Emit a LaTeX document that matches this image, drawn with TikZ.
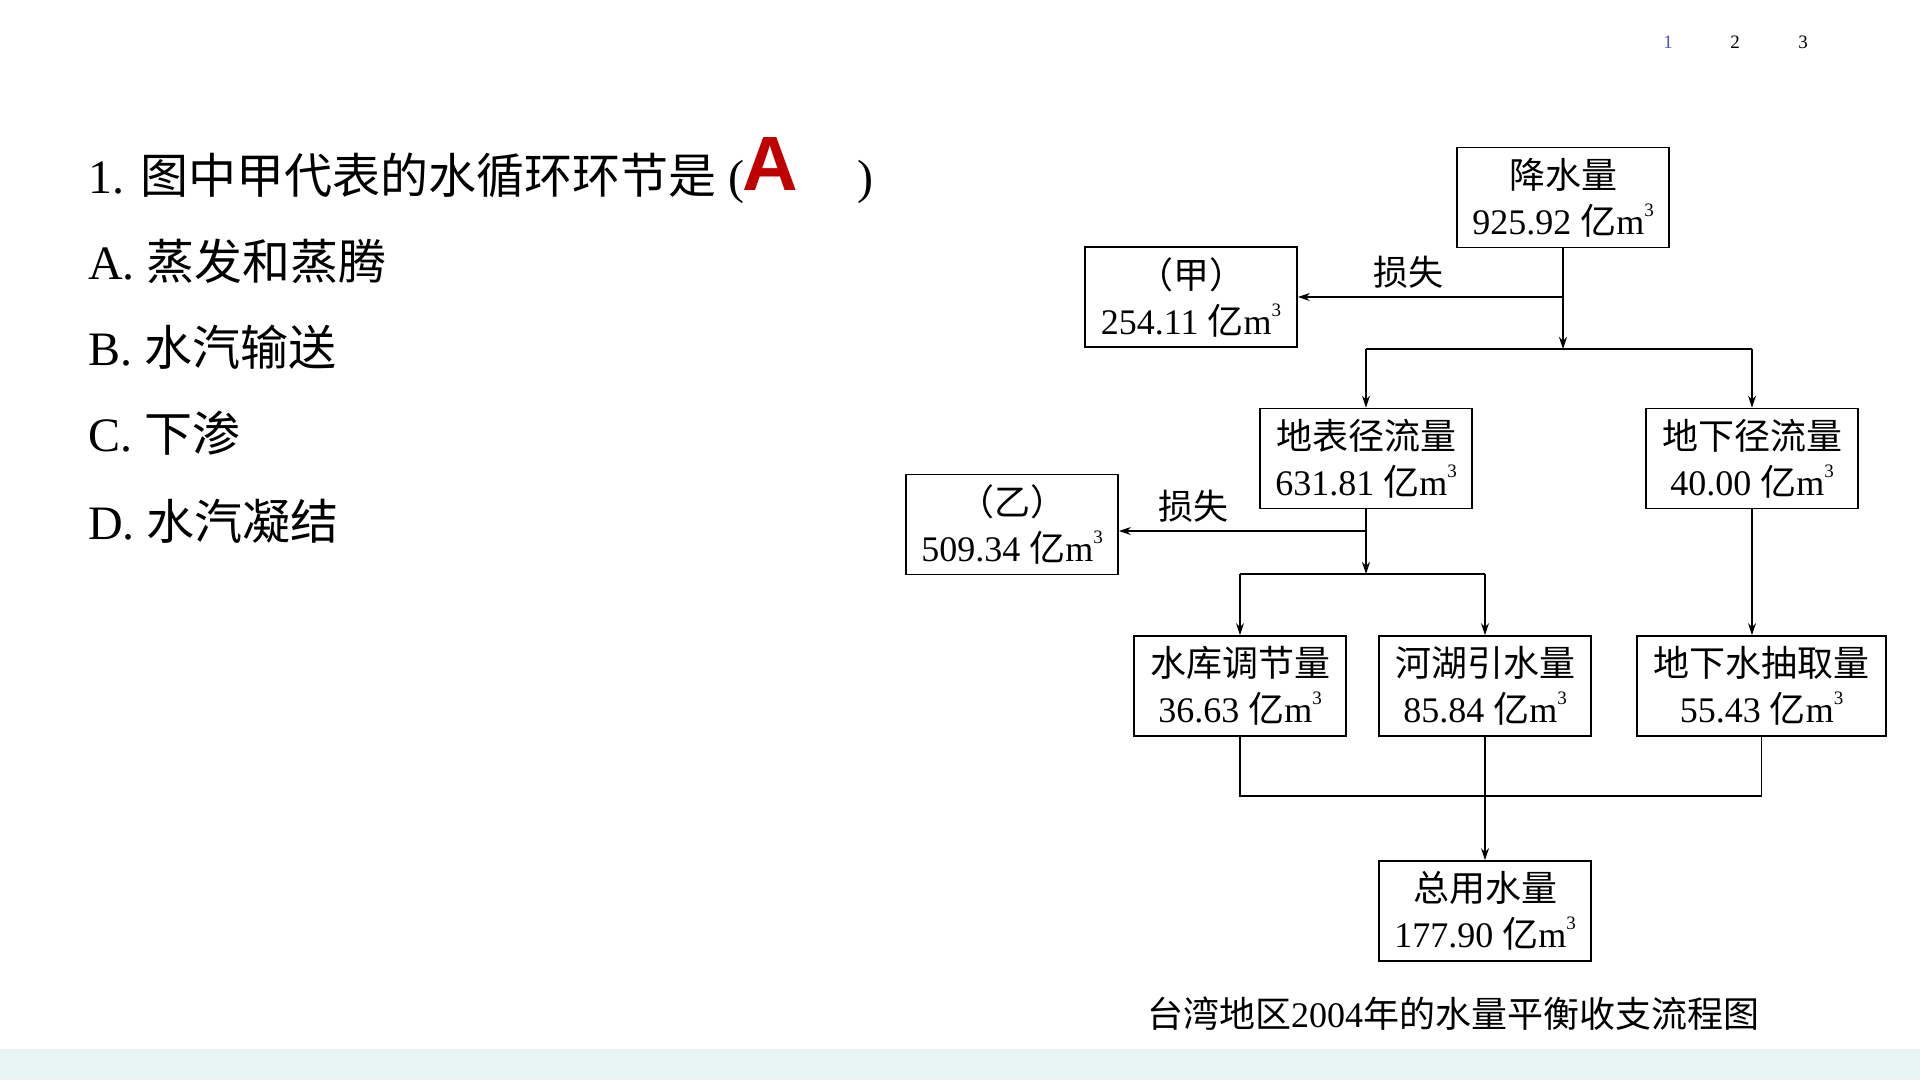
\documentclass[tikz,border=0pt]{standalone}
\usepackage{fontspec}
\setmainfont{Liberation Serif}
\newfontfamily\cjk{Noto Sans CJK SC}
\newfontfamily\sansb{Liberation Sans}
\usetikzlibrary{arrows.meta}
\definecolor{band}{RGB}{232,244,244}
\definecolor{ansred}{RGB}{192,0,0}
\definecolor{pgblue}{RGB}{80,80,200}
\newcommand{\yim}{{\cjk 亿}m\raisebox{0.5em}{\fontsize{19}{19}\selectfont 3}}
\begin{document}
\begin{tikzpicture}[x=1pt,y=-1pt,
 box/.style={draw, line width=1.8pt, minimum width=212pt, minimum height=100pt, inner sep=0pt, align=center, font=\fontsize{36}{46}\selectfont},
 flow/.style={line width=1.6pt},
 arr/.style={flow, -{Stealth[length=12pt,width=8pt]}},
 lbl/.style={font=\fontsize{35}{40}\selectfont\cjk},
 q/.style={anchor=base west, inner sep=0pt, font=\fontsize{48}{54}\selectfont},
 pg/.style={font=\fontsize{19}{20}\selectfont}
]
\fill[white] (0,0) rectangle (1920,1080);
\useasboundingbox (0,0) rectangle (1920,1080);
\fill[band] (0,1049) rectangle (1920,1080);

% page numbers
\node[pg, text=pgblue] (p1) at (1668,42) {1};
\node[pg] (p2) at (1735,42) {2};
\node[pg] (p3) at (1803,42) {3};

% question
\node[q] (q1) at (88,193) {1. {\cjk 图中甲代表的水循环环节是} (};
\node[q] (qr) at (857,193) {)};
\node[anchor=base west, inner sep=0pt, text=ansred, font=\fontsize{77}{80}\selectfont\sansb\bfseries] (ans) at (742,190) {A};
\node[q] (oa) at (88,279) {A. {\cjk 蒸发和蒸腾}};
\node[q] (ob) at (88,365) {B. {\cjk 水汽输送}};
\node[q] (oc) at (88,451) {C. {\cjk 下渗}};
\node[q] (od) at (88,539) {D. {\cjk 水汽凝结}};

% diagram boxes
\node[box] (js) at (1563,197.5) {{\cjk 降水量}\\925.92 \yim};
\node[box] (jia) at (1191,297) {{\cjk （甲）}\\254.11 \yim};
\node[box] (dbj) at (1366,458.5) {{\cjk 地表径流量}\\631.81 \yim};
\node[box] (dxj) at (1752,458.5) {{\cjk 地下径流量}\\40.00 \yim};
\node[box] (yi) at (1012,524.5) {{\cjk （乙）}\\509.34 \yim};
\node[box] (sk) at (1240,686) {{\cjk 水库调节量}\\36.63 \yim};
\node[box] (hh) at (1485,686) {{\cjk 河湖引水量}\\85.84 \yim};
\node[box, minimum width=249pt] (dxcq) at (1761.5,686) {{\cjk 地下水抽取量}\\55.43 \yim};
\node[box] (zy) at (1485,911) {{\cjk 总用水量}\\177.90 \yim};

% labels
\node[lbl] (ls1) at (1408,272) {损失};
\node[lbl] (ls2) at (1193,506) {损失};
\node[font=\fontsize{36}{40}\selectfont] (cap) at (1453,1014) {{\cjk 台湾地区}2004{\cjk 年的水量平衡收支流程图}};

% connectors
\coordinate (j1) at (1563,297);
\coordinate (j2) at (1563,349);
\draw[flow] (js.south) -- (j1);
\draw[arr] (j1) -- (j1 -| jia.east);
\draw[arr] (j1) -- (j2);
\draw[flow] (dbj.north |- j2) -- (dxj.north |- j2);
\draw[arr] (dbj.north |- j2) -- (dbj.north);
\draw[arr] (dxj.north |- j2) -- (dxj.north);

\coordinate (j3) at (1366,531);
\coordinate (j4) at (1366,574);
\draw[flow] (dbj.south) -- (j3);
\draw[arr] (j3) -- (j3 -| yi.east);
\draw[arr] (j3) -- (j4);
\draw[flow] (sk.north |- j4) -- (hh.north |- j4);
\draw[arr] (sk.north |- j4) -- (sk.north);
\draw[arr] (hh.north |- j4) -- (hh.north);
\draw[arr] (dxj.south) -- (dxj.south |- dxcq.north);

\coordinate (j5) at (1485,796);
\draw[flow] (sk.south) -- (sk.south |- j5) -- (dxcq.south |- j5) -- (dxcq.south);
\draw[flow] (hh.south) -- (j5);
\draw[arr] (j5) -- (zy.north);
\end{tikzpicture}
\end{document}
